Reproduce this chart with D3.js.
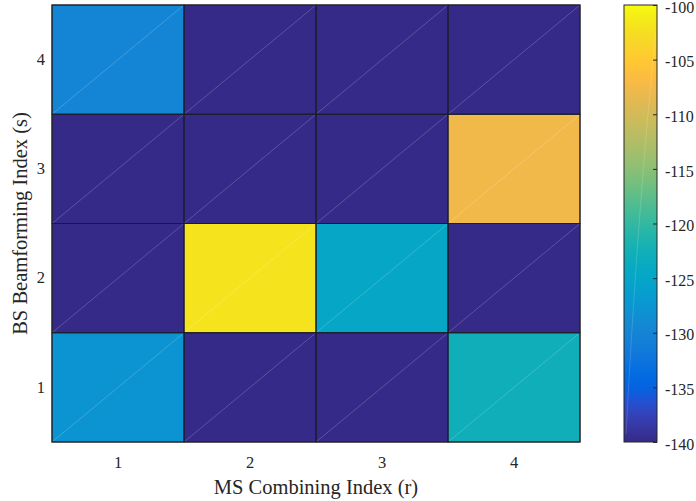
<!DOCTYPE html>
<html>
<head>
<meta charset="utf-8">
<script src="https://cdn.jsdelivr.net/npm/d3@7"></script>
<style>
  html, body { margin: 0; padding: 0; background: #fff; }
  svg { display: block; }
  text { font-family: "Liberation Serif", "Times New Roman", serif; fill: #262626; }
</style>
</head>
<body>
<svg id="chart" width="696" height="501"></svg>
<script>
// Beamforming (s) vs combining (r) index grid, received power in dB
const combIdx = [1, 2, 3, 4];          // r, columns
const beamIdx = [1, 2, 3, 4];          // s, rows
// power[s-1][r-1]
const power = [
  [-127.9, -140.0, -140.0, -122.9],    // s = 1
  [-140.0, -101.9, -124.8, -140.0],    // s = 2
  [-140.0, -140.0, -140.0, -107.6],    // s = 3
  [-129.8, -140.0, -140.0, -140.0]     // s = 4
];
const cLimits = [-140, -100];
const cTicks = [-140, -135, -130, -125, -120, -115, -110, -105, -100];

// parula colormap (64 entries)
const parula = [
[0.2081,0.1663,0.5292],[0.2116,0.1898,0.5777],[0.2123,0.2138,0.6270],[0.2081,0.2386,0.6771],
[0.1959,0.2645,0.7279],[0.1707,0.2919,0.7792],[0.1253,0.3242,0.8303],[0.0591,0.3598,0.8683],
[0.0117,0.3875,0.8820],[0.0060,0.4086,0.8828],[0.0165,0.4266,0.8786],[0.0329,0.4430,0.8720],
[0.0498,0.4586,0.8641],[0.0629,0.4737,0.8554],[0.0723,0.4887,0.8467],[0.0779,0.5040,0.8384],
[0.0793,0.5200,0.8312],[0.0749,0.5375,0.8263],[0.0641,0.5570,0.8240],[0.0488,0.5772,0.8228],
[0.0343,0.5966,0.8199],[0.0265,0.6137,0.8135],[0.0239,0.6287,0.8038],[0.0231,0.6418,0.7913],
[0.0228,0.6535,0.7768],[0.0267,0.6642,0.7607],[0.0384,0.6743,0.7436],[0.0590,0.6838,0.7254],
[0.0843,0.6928,0.7062],[0.1133,0.7015,0.6859],[0.1453,0.7098,0.6646],[0.1801,0.7177,0.6424],
[0.2178,0.7250,0.6193],[0.2586,0.7317,0.5954],[0.3022,0.7376,0.5712],[0.3482,0.7424,0.5473],
[0.3953,0.7459,0.5244],[0.4420,0.7481,0.5033],[0.4871,0.7491,0.4840],[0.5300,0.7491,0.4661],
[0.5709,0.7485,0.4494],[0.6099,0.7473,0.4337],[0.6473,0.7456,0.4188],[0.6834,0.7435,0.4044],
[0.7184,0.7411,0.3905],[0.7525,0.7384,0.3768],[0.7858,0.7356,0.3633],[0.8185,0.7327,0.3498],
[0.8507,0.7299,0.3360],[0.8824,0.7274,0.3217],[0.9139,0.7258,0.3063],[0.9450,0.7261,0.2886],
[0.9739,0.7314,0.2666],[0.9938,0.7455,0.2403],[0.9990,0.7653,0.2164],[0.9955,0.7861,0.1967],
[0.9880,0.8066,0.1794],[0.9789,0.8271,0.1633],[0.9697,0.8481,0.1475],[0.9626,0.8705,0.1309],
[0.9589,0.8949,0.1132],[0.9598,0.9218,0.0948],[0.9661,0.9514,0.0755],[0.9763,0.9831,0.0538]
].map(c => d3.rgb(c[0] * 255, c[1] * 255, c[2] * 255).formatHex());

const cmap = d3.scaleSequential(d3.interpolateRgbBasis(parula)).domain(cLimits).clamp(true);

const svg = d3.select("#chart");
const plot = { left: 52, right: 580, top: 5, bottom: 442 };

const x = d3.scaleBand().domain(combIdx).range([plot.left, plot.right]);
const y = d3.scaleBand().domain(beamIdx).range([plot.bottom, plot.top]);

const cells = [];
beamIdx.forEach((s, i) => combIdx.forEach((r, j) => cells.push({ r, s, v: power[i][j] })));

const g = svg.append("g");
g.selectAll("rect.cell").data(cells).join("rect")
  .attr("class", "cell")
  .attr("x", d => x(d.r)).attr("y", d => y(d.s))
  .attr("width", x.bandwidth()).attr("height", y.bandwidth())
  .attr("fill", d => cmap(d.v));

// faint triangle seams across each face
g.selectAll("line.seam").data(cells).join("line")
  .attr("class", "seam")
  .attr("x1", d => x(d.r)).attr("y1", d => y(d.s) + y.bandwidth())
  .attr("x2", d => x(d.r) + x.bandwidth()).attr("y2", d => y(d.s))
  .attr("stroke", "#ffffff").attr("stroke-opacity", 0.28).attr("stroke-width", 0.7);

// cell edges
g.selectAll("rect.edge").data(cells).join("rect")
  .attr("class", "edge")
  .attr("x", d => x(d.r)).attr("y", d => y(d.s))
  .attr("width", x.bandwidth()).attr("height", y.bandwidth())
  .attr("fill", "none").attr("stroke", "#1b1b2a").attr("stroke-width", 1);

// axes
const xAxis = d3.axisBottom(x).tickSize(0).tickPadding(14);
const yAxis = d3.axisLeft(y).tickSize(0).tickPadding(7);
const gx = svg.append("g").attr("transform", `translate(0,${plot.bottom})`).call(xAxis);
const gy = svg.append("g").attr("transform", `translate(${plot.left},0)`).call(yAxis);
[gx, gy].forEach(a => {
  a.select(".domain").remove();
  a.selectAll("text").attr("font-size", 16.5).attr("font-family", "Liberation Serif").attr("fill", "#262626");
});

svg.append("rect")
  .attr("x", plot.left).attr("y", plot.top)
  .attr("width", plot.right - plot.left).attr("height", plot.bottom - plot.top)
  .attr("fill", "none").attr("stroke", "#262626").attr("stroke-width", 1);

svg.append("text")
  .attr("x", (plot.left + plot.right) / 2).attr("y", 494)
  .attr("text-anchor", "middle").attr("font-size", 20.5)
  .text("MS Combining Index (r)");

svg.append("text")
  .attr("transform", `translate(27,${(plot.top + plot.bottom) / 2}) rotate(-90)`)
  .attr("text-anchor", "middle").attr("font-size", 20.5)
  .text("BS Beamforming Index (s)");

// colorbar
const cb = { x: 624, w: 33 };
const cy = d3.scaleLinear().domain(cLimits).range([plot.bottom, plot.top]);

const defs = svg.append("defs");
const grad = defs.append("linearGradient").attr("id", "cbgrad")
  .attr("x1", 0).attr("y1", 1).attr("x2", 0).attr("y2", 0);
grad.selectAll("stop").data(d3.range(0, 1.0001, 1 / 63)).join("stop")
  .attr("offset", t => t)
  .attr("stop-color", t => cmap(cLimits[0] + t * (cLimits[1] - cLimits[0])));

svg.append("rect")
  .attr("x", cb.x).attr("y", plot.top)
  .attr("width", cb.w).attr("height", plot.bottom - plot.top)
  .attr("fill", "url(#cbgrad)");

// faint seam across the colorbar surface
svg.append("path")
  .attr("d", `M${cb.x + 2},${plot.bottom - 8} Q${cb.x + 14},${plot.top + 200} ${cb.x + cb.w - 1},${plot.top + 25}`)
  .attr("fill", "none").attr("stroke", "#ffffff").attr("stroke-opacity", 0.22).attr("stroke-width", 0.7);

const cAxis = d3.axisRight(cy).tickValues(cTicks).tickFormat(d => String(d)).tickSize(-4).tickPadding(8);
const gc = svg.append("g").attr("transform", `translate(${cb.x + cb.w},0)`).call(cAxis);
gc.select(".domain").remove();
gc.selectAll(".tick line").attr("stroke", "#262626");
gc.selectAll("text").attr("font-size", 16).attr("dy", "0.45em")
  .attr("font-family", "Liberation Serif").attr("fill", "#262626");

svg.append("rect")
  .attr("x", cb.x).attr("y", plot.top)
  .attr("width", cb.w).attr("height", plot.bottom - plot.top)
  .attr("fill", "none").attr("stroke", "#262626").attr("stroke-width", 1);
</script>
</body>
</html>
